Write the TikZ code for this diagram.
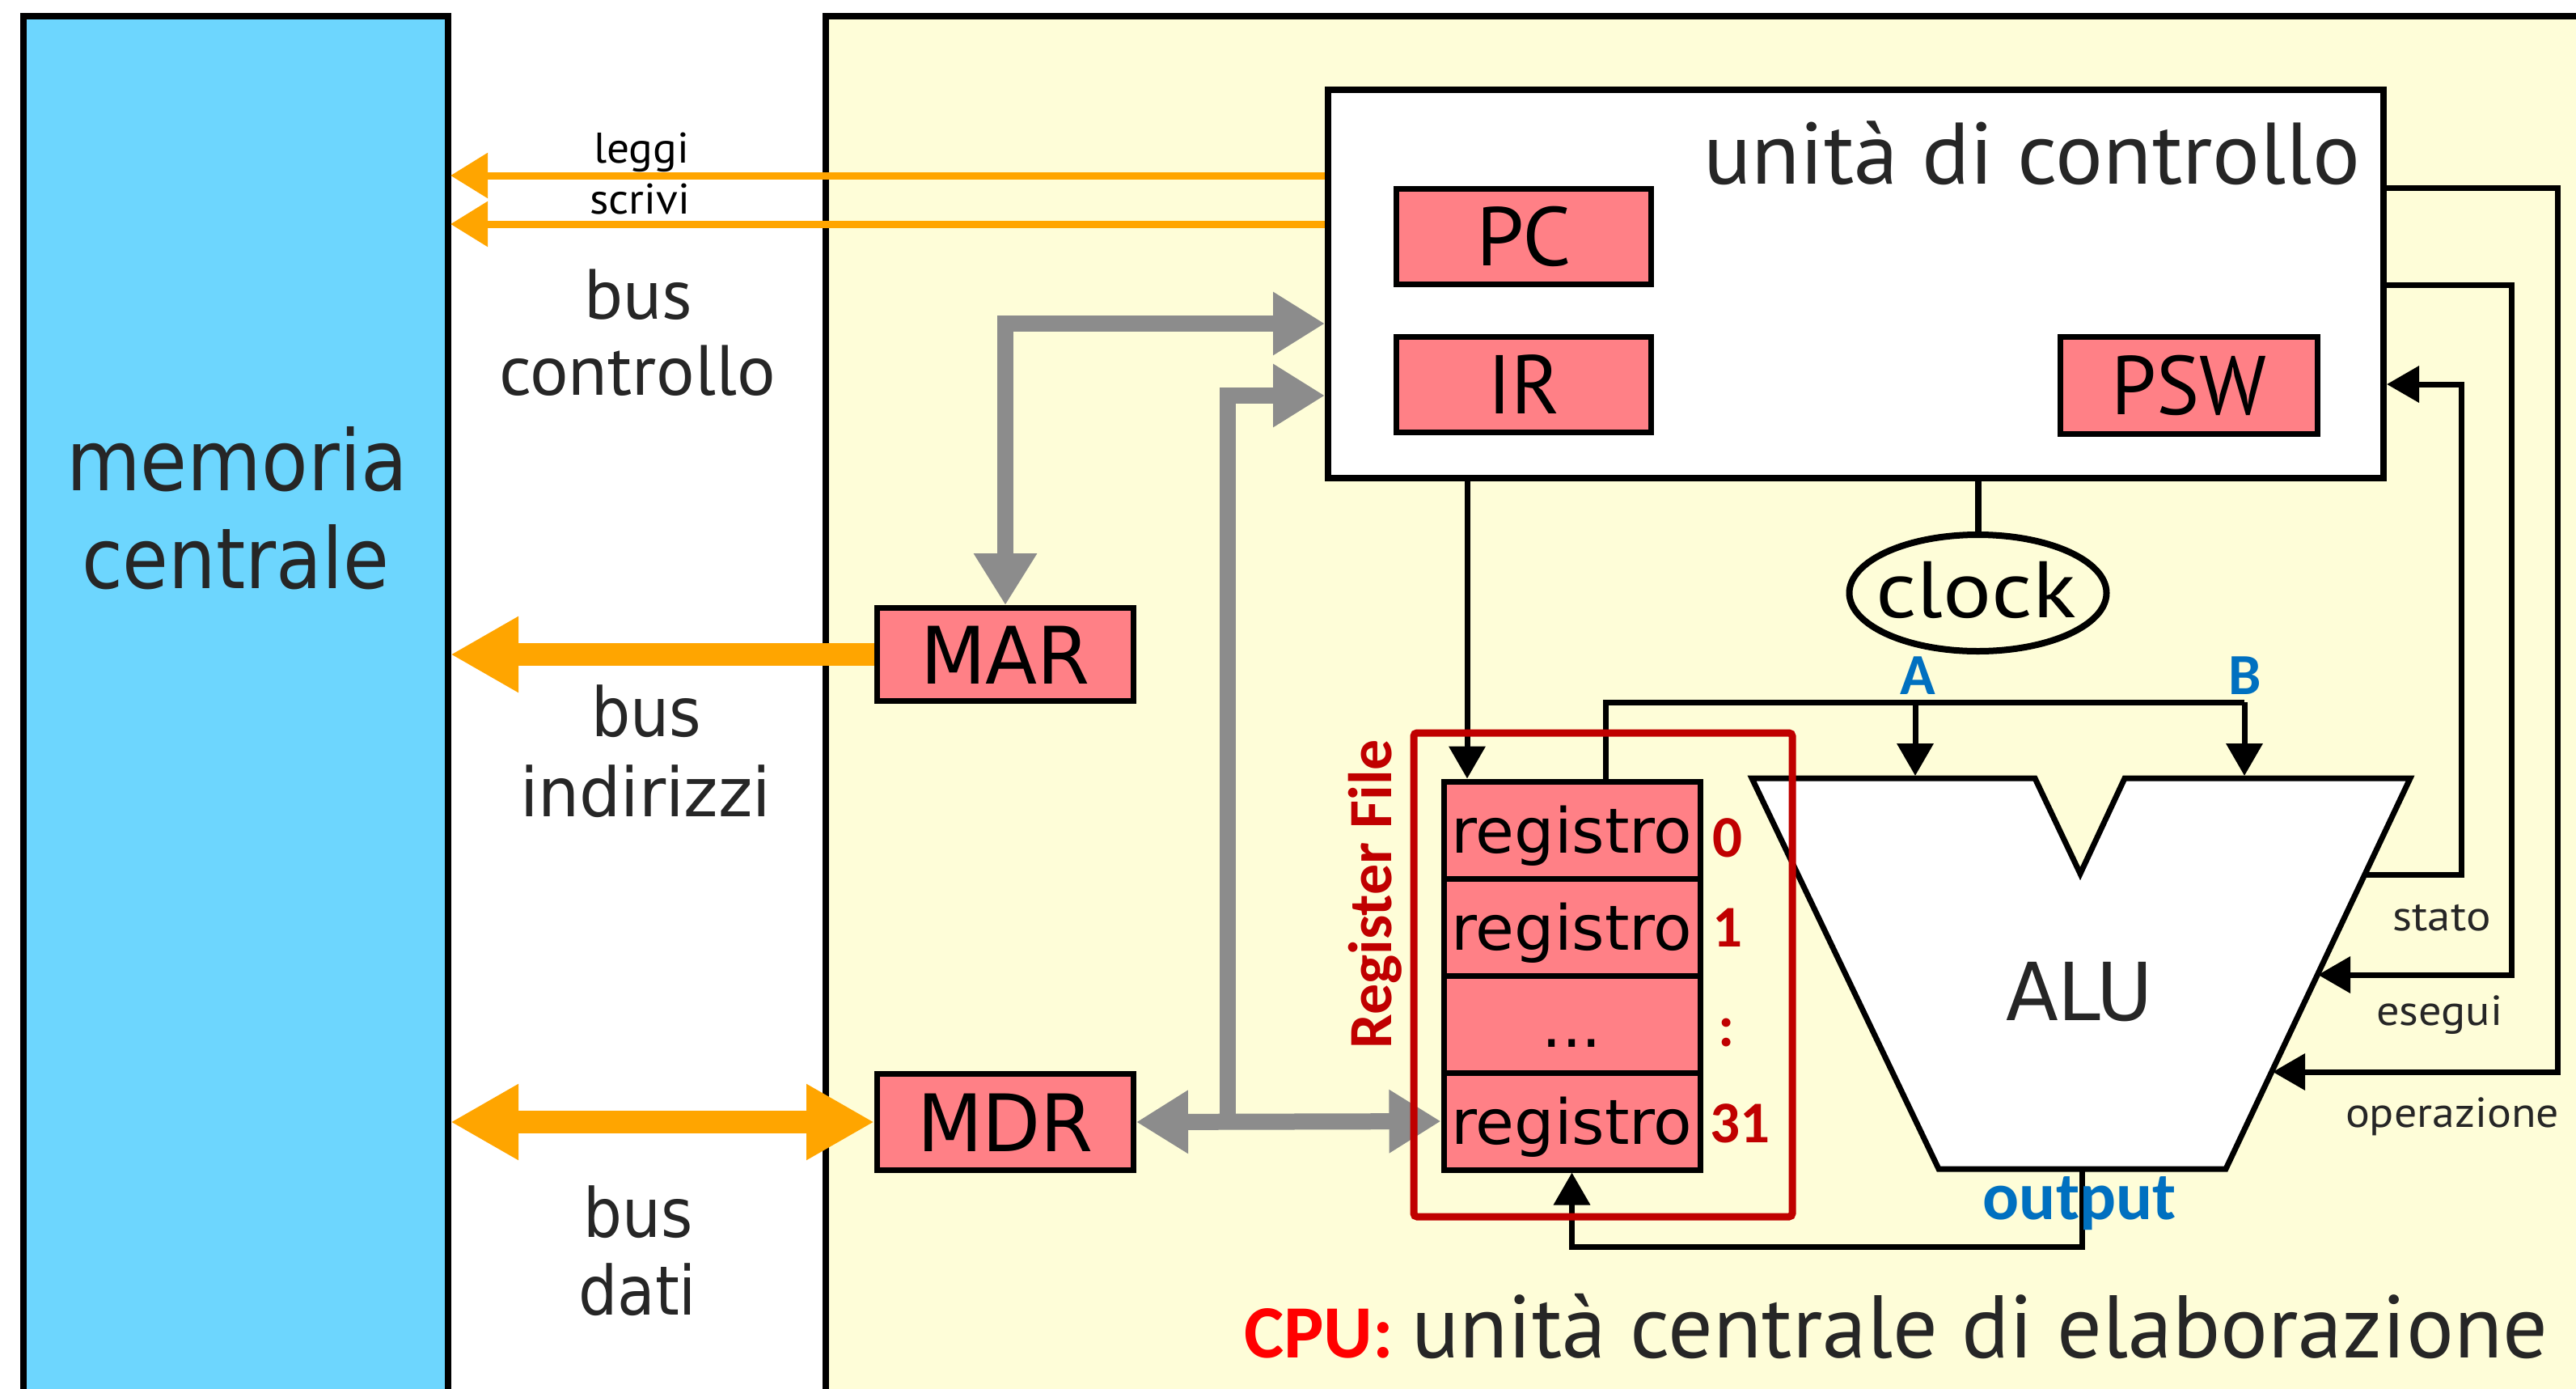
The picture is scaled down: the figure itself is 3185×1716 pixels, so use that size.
\documentclass[tikz,border=0pt]{standalone}
\usepackage{fontspec}
\setmainfont{DejaVu Sans}
\newfontfamily\myr{PT Sans}
\newfontfamily\carl{Carlito}
\usetikzlibrary{arrows.meta,shapes.geometric}
\definecolor{memblue}{HTML}{6DD6FE}
\definecolor{cpuyel}{HTML}{FEFDD8}
\definecolor{regpink}{HTML}{FF8086}
\definecolor{busor}{HTML}{FFA500}
\definecolor{busgray}{HTML}{8C8C8C}
\definecolor{rfred}{HTML}{C00000}
\definecolor{lblblue}{HTML}{0070C0}
\definecolor{cpured}{HTML}{FF0000}
\definecolor{txt}{HTML}{262626}
\newsavebox\fwbox
\newlength\fwlen
\newcommand\fw[2]{\sbox\fwbox{#2}\setlength\fwlen{\wd\fwbox}\pgfmathsetmacro\fwr{#1/\fwlen}\scalebox{\fwr}[1]{\usebox\fwbox}}
\newcommand\fs[1]{\fontsize{#1}{#1}\selectfont}
\tikzset{
  cpuln/.style={line width=8},
  regbox/.style={draw, line width=7, fill=regpink, inner sep=0, text depth=0pt},
  lbl/.style={inner sep=0, anchor=base},
  kline/.style={line width=7},
  karr/.style={line width=7, -{Triangle[length=40pt,width=44pt]}},
  othin/.style={draw=busor, line width=9, -{Triangle[length=46pt,width=54pt]}},
  othick/.style={draw=busor, line width=28},
  oarr/.style={-{Triangle[length=84pt,width=88pt]}},
  odbl/.style={{Triangle[length=84pt,width=88pt]}-{Triangle[length=84pt,width=88pt]}},
  gline/.style={draw=busgray, line width=20},
  garr/.style={-{Triangle[length=64pt,width=74pt]}},
  gdbl/.style={{Triangle[length=64pt,width=74pt]}-{Triangle[length=64pt,width=74pt]}},
}
\begin{document}
\begin{tikzpicture}[x=1pt,y=-1pt]
\useasboundingbox (0,0) rectangle (3185,1716);
\fill[white] (0,0) rectangle (3185,1716);
\begin{scope}
\clip (0,0) rectangle (3185,1716);
\draw[cpuln, fill=memblue] (29,19.5) rectangle (554,1760);
\draw[cpuln, fill=cpuyel] (1021,19.5) rectangle (3230,1760);
\end{scope}

% memory labels
\node[lbl, text=txt] (memT1) at (293,606) {\fs{104}\fw{422}{memoria}};
\node[lbl, text=txt] (memT2) at (291,727) {\fs{104}\fw{380}{centrale}};

% control unit
\node[draw, line width=8, fill=white, inner sep=0, minimum width=1305, minimum height=480] (cu) at (2294.5,351) {};
\node[lbl, text=txt] (cuT) at (2512,227) {\myr\fs{108}\fw{812}{unità di controllo}};
\node[regbox, font=\myr, minimum width=315, minimum height=118, text height=72pt] (pc) at (1884,292.5) {\fs{103}\fw{118}{PC}};
\node[regbox, font=\myr, minimum width=315, minimum height=118, text height=72pt] (ir) at (1884,475.5) {\fs{103}\fw{90}{IR}};
\node[regbox, font=\myr, minimum width=318, minimum height=120, text height=72pt] (psw) at (2706.5,476.5) {\fs{103}\fw{192}{PSW}};

% MAR / MDR
\node[regbox, minimum width=317, minimum height=115, text height=72pt] (mar) at (1243,809) {\fs{98}\fw{210}{MAR}};
\node[regbox, minimum width=317, minimum height=119, text height=72pt] (mdr) at (1243,1387) {\fs{98}\fw{218}{MDR}};

% register file rows
\node[regbox, minimum width=317, minimum height=120, text height=56pt] (r0) at (1943.5,1026) {\fs{77}\fw{298}{registro}};
\node[regbox, minimum width=317, minimum height=120, text height=56pt] (r1) at (1943.5,1146) {\fs{77}\fw{298}{registro}};
\node[regbox, minimum width=317, minimum height=120, text height=56pt] (rd) at (1943.5,1266) {\fs{77}...};
\node[regbox, minimum width=317, minimum height=120, text height=56pt] (r31) at (1943.5,1386) {\fs{77}\fw{298}{registro}};

% clock
\node[draw, ellipse, line width=8, inner sep=0, minimum width=318, minimum height=144] (clk) at (2445.5,733) {};
\node[lbl] (clkT) at (2443,763) {\myr\fs{99}\fw{248}{clock}};

% ALU
\coordinate (aTL) at (2166,962);
\coordinate (aN1) at (2516,962);
\coordinate (aN) at (2572,1080);
\coordinate (aN2) at (2627,962);
\coordinate (aTR) at (2980,962);
\coordinate (aBR) at (2752,1445);
\coordinate (aBL) at (2397,1445);
\draw[line width=7, fill=white, line join=miter] (aTL) -- (aN1) -- (aN) -- (aN2) -- (aTR) -- (aBR) -- (aBL) -- cycle;
\node[lbl, text=txt] (aluT) at (2571,1261) {\fs{99}\fw{182}{ALU}};

% orange buses
\coordinate (memLeggi) at (557,217);
\coordinate (memScrivi) at (557,277);
\coordinate (memAddr) at (557,808);
\coordinate (memData) at (557,1387);
\draw[othin] (cu.west |- memLeggi) -- (memLeggi);
\draw[othin] (cu.west |- memScrivi) -- (memScrivi);
\draw[othick, oarr] (mar.west) -- (mar.west -| memAddr);
\draw[othick, odbl] (mdr.west) -- (mdr.west -| memData);

% gray buses
\coordinate (cuIn1) at (1638,400);
\coordinate (cuIn2) at (1638,489);
\coordinate (jn) at (1518,1387);
\draw[gline, gdbl] (mar.north) -- (mar.north |- cuIn1) -- (cu.west |- cuIn1);
\draw[gline, gdbl] (mdr.east) -- (r31.west);
\draw[gline, garr] (jn) -- (jn |- cuIn2) -- (cu.west |- cuIn2);

% black connectors
\coordinate (rIn) at (1814,962.5);
\coordinate (busL) at (1985,868);
\coordinate (aIn) at (2368,959);
\coordinate (bIn) at (2775,959);
\draw[karr] (cu.south -| rIn) -- (rIn);
\draw[kline] (r0.north -| busL) -- (busL) -- (busL -| bIn);
\draw[karr] (aIn |- busL) -- (aIn);
\draw[karr] (bIn |- busL) -- (bIn);
\draw[line width=8] (cu.south -| clk.north) -- (clk.north);

\coordinate (aluOut) at (2574,1445);
\coordinate (outY) at (0,1541);
\draw[karr] (aluOut) -- (aluOut |- outY) -- (r31.south |- outY) -- (r31.south);

\coordinate (aluSt) at (2924,1081);
\coordinate (stX) at (3043,475);
\draw[karr] (aluSt) -- (aluSt -| stX) -- (stX) -- (cu.east |- stX);
\coordinate (esX) at (3105,352);
\coordinate (aluEs) at (2866,1205);
\draw[karr] (cu.east |- esX) -- (esX) -- (esX |- aluEs) -- (aluEs);
\coordinate (opX) at (3162,232);
\coordinate (aluOp) at (2810,1325);
\draw[karr] (cu.east |- opX) -- (opX) -- (opX |- aluOp) -- (aluOp);

% bus labels
\node[lbl] (legT) at (793,201) {\myr\fs{53}\fw{118}{leggi}};
\node[lbl] (scrT) at (791,264) {\myr\fs{53}\fw{124}{scrivi}};
\node[lbl, text=txt] (bc1) at (789,394) {\myr\fs{88}\fw{134}{bus}};
\node[lbl, text=txt] (bc2) at (788,488) {\myr\fs{88}\fw{342}{controllo}};
\node[lbl, text=txt] (bi1) at (799,910) {\fs{84}\fw{136}{bus}};
\node[lbl, text=txt] (bi2) at (798,1009) {\fs{84}\fw{310}{indirizzi}};
\node[lbl, text=txt] (bd1) at (789,1529) {\fs{84}\fw{135}{bus}};
\node[lbl, text=txt] (bd2) at (788,1625) {\fs{84}\fw{146}{dati}};

\node[lbl, text=txt] (stT) at (3019,1150) {\myr\fs{52}\fw{121}{stato}};
\node[lbl, text=txt] (esT) at (3016,1267) {\myr\fs{52}\fw{156}{esegui}};
\node[lbl, text=txt] (opT) at (3032,1393) {\myr\fs{52}\fw{264}{operazione}};

% annotations
\node[draw=rfred, line width=9, rounded corners=4, inner sep=0, minimum width=468, minimum height=598] (rf) at (1982,1205) {};
\node[lbl, rotate=90, text=rfred] (rfT) at (1720,1105) {\carl\bfseries\fs{76}Register File};
\node[lbl, anchor=base west, text=rfred] (n0) at (2117,1059) {\carl\bfseries\fs{73}0};
\node[lbl, anchor=base west, text=rfred] (n1) at (2117,1170) {\carl\bfseries\fs{73}1};
\node[lbl, text=rfred] (nd) at (2135,1293) {\carl\bfseries\fs{73}:};
\node[lbl, anchor=base west, text=rfred] (n31) at (2114,1412) {\carl\bfseries\fs{73}31};
\node[lbl, text=lblblue] (aT) at (2371,858) {\carl\bfseries\fs{72}A};
\node[lbl, text=lblblue] (bT) at (2776,858) {\carl\bfseries\fs{72}B};
\node[lbl, text=lblblue] (outT) at (2571,1507) {\carl\bfseries\fs{84}output};
\node[lbl, anchor=base west, text=cpured] (cpuT) at (1538,1678) {\carl\bfseries\fs{93}CPU:};
\node[lbl, anchor=base west, text=txt] (cpuT2) at (1745,1678) {\myr\fs{110}\fw{1405}{unità centrale di elaborazione}};
\end{tikzpicture}
\end{document}
